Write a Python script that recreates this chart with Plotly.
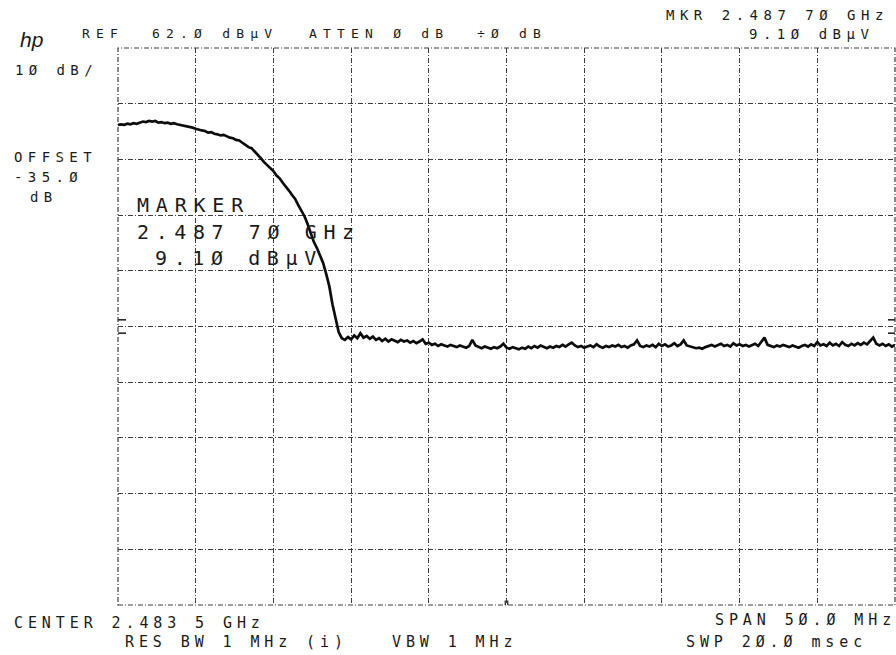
import numpy as np
import plotly.graph_objects as go

# Analyzer settings (frequencies in MHz, levels in dBuV)
center_mhz = 2483.5
span_mhz = 50.0
step_mhz = 0.2
ref_level = 62.0
db_per_div = 10.0
marker_mhz = 2487.7
marker_level = 9.10

# Swept trace, one level per 0.2 MHz bin from 2458.5 to 2508.5 MHz
levels = [
    48.2, 48.3, 48.2, 48.4, 48.3, 48.5, 48.4, 48.6, 48.8, 48.7,
    48.9, 48.8, 48.9, 48.6, 48.7, 48.5, 48.6, 48.4, 48.5, 48.3,
    48.2, 48.1, 48.0, 47.8, 47.7, 47.5, 47.3, 47.2, 47.1, 46.8,
    46.9, 46.6, 46.5, 46.3, 46.4, 46.1, 45.9, 45.8, 45.5, 45.4,
    45.0, 44.7, 44.2, 44.0, 43.4, 42.9, 42.2, 41.5, 41.0, 40.4,
    39.9, 39.1, 38.6, 37.8, 37.2, 36.4, 35.6, 34.9, 33.8, 32.9,
    31.8, 30.4, 28.6, 27.2, 26.1, 24.8, 23.4, 21.4, 19.2, 16.0,
    13.2, 11.0, 9.9, 9.6, 10.1, 9.7, 10.4, 9.9, 10.8, 10.0,
    10.3, 9.8, 10.2, 9.6, 9.9, 9.4, 9.8, 9.3, 9.7, 9.5,
    9.2, 9.6, 9.3, 9.5, 9.1, 9.4, 9.0, 9.3, 9.7, 8.9,
    9.1, 8.7, 8.9, 8.5, 8.8, 8.6, 8.4, 8.7, 8.5, 8.3,
    8.6, 8.4, 8.2, 8.5, 9.6, 8.6, 8.3, 8.1, 8.4, 8.2,
    8.0, 8.3, 8.1, 8.4, 8.9, 8.2, 8.0, 8.3, 8.1, 7.9,
    8.2, 8.0, 8.4, 8.1, 8.5, 8.2, 8.6, 8.3, 8.1, 8.4,
    8.2, 8.5, 8.3, 8.7, 8.4, 8.8, 9.1, 8.6, 8.3, 8.5,
    8.2, 8.4, 8.6, 8.3, 8.8, 8.4, 8.2, 8.5, 8.3, 8.6,
    8.4, 8.7, 8.3, 8.5, 8.2, 8.6, 8.8, 9.5, 8.5, 8.3,
    8.6, 8.4, 8.7, 8.3, 8.9, 8.5, 8.8, 8.4, 8.6, 9.0,
    8.5, 8.8, 9.5, 8.6, 8.4, 8.2, 8.1, 8.2, 8.0, 8.3,
    8.5, 8.7, 8.4, 8.6, 8.9, 8.5, 8.7, 8.4, 9.0, 8.6,
    8.8, 8.5, 8.7, 8.4, 8.6, 8.9, 8.5, 9.3, 10.0, 8.7,
    8.5, 8.3, 8.6, 8.4, 8.7, 8.5, 8.3, 8.6, 8.4, 8.2,
    8.5, 8.7, 8.4, 8.8, 8.5, 9.2, 8.6, 8.8, 8.5, 9.1,
    8.6, 8.9, 8.5, 9.2, 8.7, 8.5, 8.9, 8.6, 9.0, 8.7,
    9.1, 8.8, 9.4, 10.0, 8.9, 8.6, 8.9, 8.5, 8.8, 8.4,
    8.7,
]

# Display-line indicator levels at the graticule edges
display_line_levels = [13.2, 10.8]

start_mhz = center_mhz - span_mhz / 2
stop_mhz = center_mhz + span_mhz / 2
bottom_level = ref_level - 10 * db_per_div
freqs = start_mhz + step_mhz * np.arange(len(levels))

W, H = 896, 655
ML, MR, MT, MB = 118, 1, 48, 50
PW, PH = W - ML - MR, H - MT - MB

FONT = "DejaVu Sans Mono"
INK = "#1a1a1a"
GRID = "#3c3c3c"
GRID_DASH = "5px,2px,1px,2px"

fig = go.Figure()
fig.add_trace(go.Scatter(
    x=freqs, y=levels, mode="lines",
    line=dict(color="#0d0d0d", width=2.7),
    hoverinfo="skip", showlegend=False,
))


def px(x):
    return (x - ML) / PW


def py(y):
    return (H - MB - y) / PH


def label(text, x, y, size, spacing, anchor="left", italic=False, family=FONT):
    if anchor == "right":
        x += spacing
    body = f'<span style="letter-spacing:{spacing}px">{text}</span>'
    if italic:
        body = f"<i>{body}</i>"
    fig.add_annotation(
        text=body, x=px(x), y=py(y), xref="paper", yref="paper",
        xanchor=anchor, yanchor="middle", showarrow=False,
        font=dict(family=family, size=size, color=INK),
    )


# Header
label("hp", 18, 40, 21, 0, italic=True, family="Liberation Sans")
label("REF", 80, 33, 13, 6.2)
label("62.Ø dBμV", 150, 33, 13, 6.2)
label("ATTEN Ø dB", 307, 33, 13, 6.2)
label("÷Ø dB", 475, 33, 13, 6.2)
label("MKR 2.487 7Ø GHz", 885, 15, 14, 5.5, anchor="right")
label("9.1Ø dBμV", 870, 34, 14, 5.5, anchor="right")

# Left column
label("1Ø dB/", 13, 70, 14, 5.4)
label("OFFSET", 12, 157, 14, 5.4)
label("-35.Ø", 12, 177, 14, 5.4)
label("dB", 28, 197, 14, 5.4)

# Marker readout inside the graticule
label("MARKER", 135, 205, 20, 6.8)
label("2.487 7Ø GHz", 135, 232, 20, 6.6)
label("9.1Ø dBμV", 153, 258, 20, 6.6)

# Footer
label("CENTER 2.483 5 GHz", 12, 623, 15, 4.9)
label("RES BW 1 MHz (i)", 123, 642, 15, 4.9)
label("VBW 1 MHz", 390, 642, 15, 4.9)
label("SPAN 5Ø.Ø MHz", 893, 620, 15, 4.9, anchor="right")
label("SWP 2Ø.Ø msec", 864, 642, 15, 4.9, anchor="right")

# Dashed graticule border
fig.add_shape(type="rect", xref="paper", yref="paper", x0=0, x1=1, y0=0, y1=1,
              line=dict(color=GRID, width=1.2, dash=GRID_DASH), layer="below")

# Small display-line ticks on both edges
for lv in display_line_levels:
    fig.add_shape(type="line", xref="paper", yref="y", x0=0, x1=8 / PW, y0=lv, y1=lv,
                  line=dict(color=INK, width=1.5))
    fig.add_shape(type="line", xref="paper", yref="y", x0=1 - 7 / PW, x1=1, y0=lv, y1=lv,
                  line=dict(color=INK, width=1.5))

# Center-frequency tick on the bottom edge
for dx in (-0.08, 0.08):
    fig.add_shape(type="line", xref="x", yref="y",
                  x0=center_mhz + dx, x1=center_mhz + dx,
                  y0=bottom_level, y1=bottom_level + 0.8,
                  line=dict(color=INK, width=1.2))

fig.update_xaxes(
    range=[start_mhz, stop_mhz], tick0=start_mhz, dtick=span_mhz / 10,
    showgrid=True, gridcolor=GRID, gridwidth=1, griddash=GRID_DASH,
    showticklabels=False, ticks="", zeroline=False, showline=False,
)
fig.update_yaxes(
    range=[bottom_level, ref_level], tick0=bottom_level, dtick=db_per_div,
    showgrid=True, gridcolor=GRID, gridwidth=1, griddash=GRID_DASH,
    showticklabels=False, ticks="", zeroline=False, showline=False,
)

fig.update_layout(
    width=W, height=H,
    margin=dict(l=ML, r=MR, t=MT, b=MB, pad=0),
    paper_bgcolor="white", plot_bgcolor="white",
    showlegend=False,
)

fig.write_html("out.html")
